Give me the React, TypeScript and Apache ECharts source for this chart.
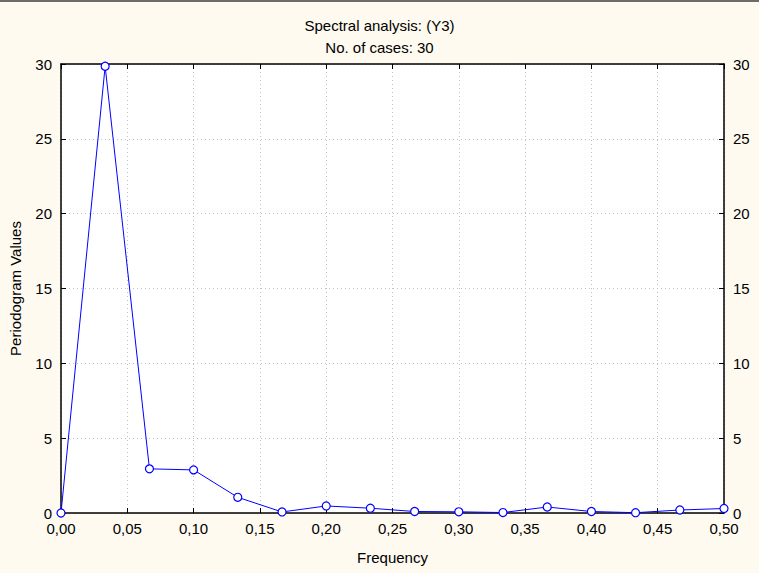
import React, { useEffect, useRef } from "react";
import * as echarts from "echarts";

const frequencies = [0, 0.0333, 0.0667, 0.1, 0.1333, 0.1667, 0.2, 0.2333, 0.2667, 0.3, 0.3333, 0.3667, 0.4, 0.4333, 0.4667, 0.5];
const periodogram = [0, 29.85, 2.95, 2.88, 1.05, 0.07, 0.47, 0.32, 0.1, 0.08, 0.03, 0.4, 0.1, 0.02, 0.2, 0.3];
const titleLines = ["Spectral analysis: (Y3)", "No. of cases: 30"];
const xName = "Frequency";
const yName = "Periodogram Values";

const fmtX = (v: number) => v.toFixed(2).replace(".", ",");

export default function App() {
  const ref = useRef<HTMLDivElement>(null);
  useEffect(() => {
    if (!ref.current) return;
    const chart = echarts.init(ref.current, null, { renderer: "svg" });
    const font = "Liberation Sans, Arial, sans-serif";
    const axisLine = { show: true, onZero: false, lineStyle: { color: "#000", width: 1.5 } };
    const tick = { show: true, inside: true, length: 5, lineStyle: { color: "#000", width: 1 } };
    const splitLine = { show: true, lineStyle: { color: "#c0c0c0", type: [1, 3] as any, width: 1 } };
    const label = { color: "#000", fontSize: 15, fontFamily: font };
    const titleStyle = { fontSize: 15, fontWeight: "normal" as const, color: "#000", fontFamily: font };
    chart.setOption({
      animation: false,
      backgroundColor: "#fefaf0",
      textStyle: { fontFamily: font },
      title: [
        { text: titleLines[0], left: "center", top: 13, textStyle: titleStyle },
        { text: titleLines[1], left: "center", top: 35, textStyle: titleStyle },
      ],
      graphic: [
        { type: "rect", left: 0, top: 0, shape: { width: 759, height: 2 }, style: { fill: "#6b6b6b" } },
      ],
      grid: { left: 60, right: 35, top: 64, bottom: 60, show: true, backgroundColor: "#ffffff", borderWidth: 0 },
      xAxis: [
        {
          type: "value", min: 0, max: 0.5, interval: 0.05, position: "bottom",
          name: xName, nameLocation: "middle", nameGap: 37,
          nameTextStyle: { color: "#000", fontSize: 15, fontFamily: font },
          axisLine, axisTick: tick,
          axisLabel: { ...label, margin: 8, formatter: (v: number) => fmtX(v) },
          splitLine,
        },
        {
          type: "value", min: 0, max: 0.5, interval: 0.05, position: "top",
          axisLine, axisTick: tick,
          axisLabel: { show: false }, splitLine: { show: false },
        },
      ],
      yAxis: [
        {
          type: "value", min: 0, max: 30, interval: 5, position: "left",
          name: yName, nameLocation: "middle", nameGap: 38,
          nameTextStyle: { color: "#000", fontSize: 15, fontFamily: font },
          axisLine, axisTick: tick,
          axisLabel: { ...label, margin: 9 },
          splitLine,
        },
        {
          type: "value", min: 0, max: 30, interval: 5, position: "right",
          axisLine, axisTick: tick,
          axisLabel: { ...label, margin: 9 },
          splitLine: { show: false },
        },
      ],
      series: [
        {
          type: "line",
          xAxisIndex: 0, yAxisIndex: 0,
          data: frequencies.map((f, i) => [f, periodogram[i]]),
          lineStyle: { color: "#0000ff", width: 1 },
          itemStyle: { color: "#ffffff", borderColor: "#0000ff", borderWidth: 1.2 },
          symbol: "circle", symbolSize: 8,
          clip: false,
        },
      ],
    });
    return () => chart.dispose();
  }, []);
  return <div ref={ref} style={{ position: "fixed", left: 0, top: 0, width: 759, height: 573 }} />;
}
